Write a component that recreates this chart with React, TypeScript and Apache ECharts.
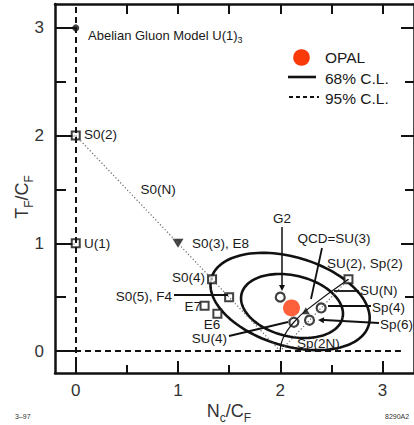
import React, { useEffect, useRef } from "react";
import * as echarts from "echarts";

// ---- axis ticks / labels ----
const xTickLabels = [0, 1, 2, 3];
const xMinorTicks = [0.5, 1.5, 2.5];
const xTopTicks = [0.5, 1, 1.5, 2, 2.5, 3];
const yTickLabels = [0, 1, 2, 3];
const yMinorTicks = [0.5, 1.5, 2.5];
const yRightMajor = [1, 2, 3];
const yRightMinor = [0.5, 1.5, 2.5];

// ---- data: [Nc/CF, TF/CF] ----
const squarePoints = [
  [0, 2], // S0(2)
  [0, 1], // U(1)
  [1.333, 0.667], // S0(4)
  [1.5, 0.5], // S0(5), F4
  [1.26, 0.42], // E7
  [1.385, 0.346], // E6
  [2.667, 0.667], // SU(2), Sp(2)
];
const circlePoints = [
  [2.0, 0.5], // G2
  [2.133, 0.267], // SU(4)
  [2.4, 0.4], // Sp(4)
  [2.286, 0.286], // Sp(6)
];
const abelianPoint = [[0, 3]];
const so3e8Point = [[1, 1]];
const qcdPoint = [[2.25, 0.375]];
const opalPoint = [[2.11, 0.4]];
const soLine = [[0, 2], [2, 0]];
const spLine = [[2.667, 0.667], [2, 0]];
const suCurve = [
  [2.667, 0.667], [2.25, 0.375], [2.133, 0.267], [2.083, 0.208], [2.057, 0.171],
  [2.032, 0.127], [2.02, 0.101], [2.005, 0.05], [2, 0],
];
// confidence ellipses: centre x, centre y, semi-axis 1 (dx, dy), semi-axis 2 (dx, dy)
const ellipse68 = [2.115, 0.418, 0.494, -0.11, 0.067, 0.276];
const ellipse95 = [2.096, 0.46, 0.769, -0.219, 0.122, 0.395];
// horizontal 95%-style reference line at TF/CF = 0 (x extent)
const zeroLineX = [-0.203, 3.18];

const X_MIN = -0.203;
const X_MAX = 3.308;
const Y_MIN = -0.204;
const Y_MAX = 3.222;

const FONT = "'Liberation Sans', Arial, Helvetica, sans-serif";
const INK = "#111";

function arrowHead(tx: number, ty: number, fx: number, fy: number, len = 6, half = 3) {
  const dx = tx - fx, dy = ty - fy;
  const d = Math.hypot(dx, dy) || 1;
  const ux = dx / d, uy = dy / d;
  const bx = tx - ux * len, by = ty - uy * len;
  return {
    type: "polygon",
    shape: { points: [[tx, ty], [bx - uy * half, by + ux * half], [bx + uy * half, by - ux * half]] },
    style: { fill: INK },
    z: 100,
  };
}

function txt(text: string, x: number, y: number, align: string = "left", fontSize = 13.5, extra: any = {}) {
  return {
    type: "text",
    x,
    y,
    z: 100,
    style: {
      text,
      fontSize,
      fontFamily: FONT,
      fill: "#1a1a1a",
      align,
      verticalAlign: "middle",
      ...extra,
    },
  };
}

function ln(x1: number, y1: number, x2: number, y2: number, width = 1.5, dash: any = null) {
  return {
    type: "line",
    z: 100,
    shape: { x1, y1, x2, y2 },
    style: { stroke: INK, lineWidth: width, lineDash: dash },
  };
}

export default function App() {
  const ref = useRef<HTMLDivElement>(null);
  useEffect(() => {
    const chart = echarts.init(ref.current!, null, { renderer: "svg" });
    const axisLine = { show: true, onZero: false, lineStyle: { color: INK, width: 2.5 } };
    const tickStyle = { color: INK, width: 2 };
    const baseX = { type: "value", min: X_MIN, max: X_MAX, gridIndex: 0, splitLine: { show: false } };
    const baseY = { type: "value", min: Y_MIN, max: Y_MAX, gridIndex: 0, splitLine: { show: false } };

    const option: any = {
      animation: false,
      backgroundColor: "#fff",
      grid: { left: 55, right: -4, top: 4, bottom: 52, containLabel: false },
      xAxis: [
        {
          ...baseX,
          position: "bottom",
          offset: 0,
          axisLine,
          axisTick: { show: true, inside: true, length: 12, customValues: xTickLabels, lineStyle: tickStyle },
          axisLabel: { show: true, customValues: xTickLabels, fontSize: 17, color: "#333", margin: 9, fontFamily: FONT },
        },
        {
          ...baseX,
          position: "bottom",
          offset: 0,
          axisLine: { show: false, onZero: false },
          axisTick: { show: true, inside: true, length: 8, customValues: xMinorTicks, lineStyle: tickStyle },
          axisLabel: { show: false },
        },
        {
          ...baseX,
          position: "top",
          offset: 0,
          axisLine,
          axisTick: { show: true, inside: true, length: 10, customValues: xTopTicks, lineStyle: tickStyle },
          axisLabel: { show: false },
        },
      ],
      yAxis: [
        {
          ...baseY,
          position: "left",
          offset: 0,
          axisLine,
          axisTick: { show: true, inside: true, length: 20, customValues: yTickLabels, lineStyle: tickStyle },
          axisLabel: { show: true, customValues: yTickLabels, fontSize: 17, color: "#333", margin: 11, fontFamily: FONT },
        },
        {
          ...baseY,
          position: "left",
          offset: 0,
          axisLine: { show: false, onZero: false },
          axisTick: { show: true, inside: true, length: 11, customValues: yMinorTicks, lineStyle: tickStyle },
          axisLabel: { show: false },
        },
        {
          ...baseY,
          position: "right",
          offset: 0,
          axisLine,
          axisTick: { show: true, inside: true, length: 13, customValues: yRightMajor, lineStyle: tickStyle },
          axisLabel: { show: false },
        },
        {
          ...baseY,
          position: "right",
          offset: 0,
          axisLine: { show: false, onZero: false },
          axisTick: { show: true, inside: true, length: 9, customValues: yRightMinor, lineStyle: tickStyle },
          axisLabel: { show: false },
        },
      ],
      series: [
        {
          type: "line",
          name: "refs",
          data: [],
          markLine: {
            silent: true,
            symbol: "none",
            label: { show: false },
            lineStyle: { color: INK, width: 2, type: [6, 4] },
            data: [
              { xAxis: 0 },
              [{ coord: [zeroLineX[0], 0] }, { coord: [zeroLineX[1], 0] }],
            ],
          },
        },
        {
          type: "line",
          name: "SO(N)",
          data: soLine,
          symbol: "none",
          lineStyle: { color: "#666", width: 1.2, type: [1.2, 2.2] },
        },
        {
          type: "line",
          name: "Sp(2N)",
          data: spLine,
          symbol: "none",
          lineStyle: { color: "#666", width: 1.2, type: [1.2, 2.2] },
        },
        {
          type: "line",
          name: "SU(N)",
          data: suCurve,
          symbol: "none",
          smooth: true,
          lineStyle: { color: INK, width: 1.2 },
        },
        {
          type: "custom",
          name: "ellipses",
          data: [ellipse68, ellipse95],
          encode: { x: 0, y: 1 },
          renderItem: (_params: any, api: any) => {
            const cx = api.value(0), cy = api.value(1);
            const ax = api.value(2), ay = api.value(3);
            const bx = api.value(4), by = api.value(5);
            const pts: number[][] = [];
            for (let k = 0; k <= 120; k++) {
              const t = (k / 120) * Math.PI * 2;
              pts.push(api.coord([cx + ax * Math.cos(t) + bx * Math.sin(t), cy + ay * Math.cos(t) + by * Math.sin(t)]));
            }
            return { type: "polyline", shape: { points: pts }, style: { fill: "none", stroke: INK, lineWidth: 2.6 } };
          },
        },
        {
          type: "scatter",
          name: "squares",
          data: squarePoints,
          symbol: "rect",
          symbolSize: 8,
          itemStyle: { color: "#fff", borderColor: INK, borderWidth: 2 },
        },
        {
          type: "scatter",
          name: "circles",
          data: circlePoints,
          symbol: "circle",
          symbolSize: 9,
          itemStyle: { color: "#fff", borderColor: INK, borderWidth: 2.2 },
        },
        {
          type: "scatter",
          name: "abelian",
          data: abelianPoint,
          symbol: "circle",
          symbolSize: 7,
          itemStyle: { color: INK },
        },
        {
          type: "scatter",
          name: "SO(3),E8",
          data: so3e8Point,
          symbol: "triangle",
          symbolRotate: 180,
          symbolSize: [11, 9],
          itemStyle: { color: INK },
        },
        {
          type: "scatter",
          name: "QCD",
          data: qcdPoint,
          symbol: "triangle",
          symbolSize: [8, 7],
          itemStyle: { color: INK },
        },
        {
          type: "scatter",
          name: "OPAL",
          data: opalPoint,
          symbol: "circle",
          symbolSize: 17,
          itemStyle: { color: "#fb3a0a" },
          z: 5,
        },
      ],
      graphic: [
        // legend
        { type: "circle", z: 100, shape: { cx: 301.5, cy: 57.5, r: 8.3 }, style: { fill: "#fb3a0a" } },
        txt("OPAL", 325, 57, "left", 15.5),
        ln(288, 77, 316, 77, 2.6),
        txt("68% C.L.", 325, 78, "left", 15.5),
        ln(289, 97, 319, 97, 2.2, [4, 3]),
        txt("95% C.L.", 325, 98, "left", 15.5),
        // point labels
        txt("Abelian Gluon Model U(1){s|3}", 88, 35, "left", 13, {
          rich: { s: { fontSize: 9, fontFamily: FONT, fill: "#1a1a1a", verticalAlign: "bottom", lineHeight: 9, padding: [0, 0, -3, 0] } },
        }),
        txt("S0(2)", 84, 134),
        txt("U(1)", 84, 243),
        txt("S0(N)", 158, 189, "center"),
        txt("S0(3), E8", 192, 243),
        txt("S0(4)", 205, 277, "right"),
        txt("S0(5), F4", 172, 296, "right"),
        ln(174, 295, 228, 295, 2),
        txt("E7", 201, 306, "right"),
        txt("E6", 212, 324, "center"),
        txt("SU(4)", 227, 338, "right"),
        ln(229, 336, 288, 322, 1.8),
        txt("G2", 282, 218, "center"),
        ln(282, 227, 282, 288, 1.5),
        arrowHead(282, 291, 282, 227),
        txt("QCD=SU(3)", 334, 238, "center"),
        ln(322, 248, 311, 299, 1.8),
        txt("SU(2), Sp(2)", 327, 263),
        txt("SU(N)", 360, 290),
        ln(334, 291, 359, 291, 1.8),
        txt("Sp(4)", 372, 307),
        ln(328, 306, 371, 306, 1.8),
        txt("Sp(6)", 380, 324),
        ln(324, 320, 379, 323, 1.8),
        arrowHead(318, 320, 379, 323),
        txt("Sp(2N)", 297, 343),
        // axis titles
        txt("N{s|c}/C{s|F}", 229, 411, "center", 18, {
          fill: "#333",
          rich: { s: { fontSize: 12, fontFamily: FONT, fill: "#333", verticalAlign: "bottom", lineHeight: 12, padding: [0, 0, -4, 0] } },
        }),
        {
          type: "text",
          x: 22,
          y: 197,
          rotation: Math.PI / 2,
          z: 100,
          style: {
            text: "T{s|F}/C{s|F}",
            fontSize: 18,
            fontFamily: FONT,
            fill: "#333",
            align: "center",
            verticalAlign: "middle",
            rich: { s: { fontSize: 12, fontFamily: FONT, fill: "#333", verticalAlign: "bottom", lineHeight: 12, padding: [0, 0, -4, 0] } },
          },
        },
        // footers
        txt("3\u201397", 15, 416, "left", 7, { fill: "#333" }),
        txt("8290A2", 385, 416, "left", 7, { fill: "#333" }),
      ],
    };
    chart.setOption(option);
    return () => chart.dispose();
  }, []);
  return (
    <div
      ref={ref}
      style={{ position: "fixed", left: 0, top: 0, width: 414, height: 425, background: "#fff" }}
    />
  );
}
